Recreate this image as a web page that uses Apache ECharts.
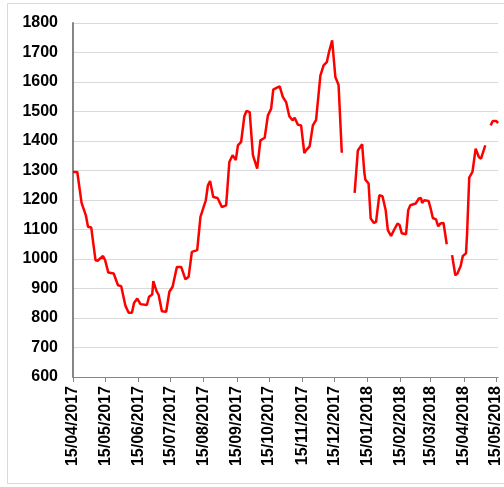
<!doctype html>
<html>
<head>
<meta charset="utf-8" />
<script src="https://cdn.jsdelivr.net/npm/echarts@6/dist/echarts.min.js"></script>
<style>
  html, body { margin: 0; padding: 0; background: #fff; }
  #chart { width: 504px; height: 487px; }
</style>
</head>
<body>
<div id="chart"></div>
<script>
// dates are dd/mm/yyyy; a null value breaks the line
const dates = [
  "15/04/2017", "19/04/2017", "23/04/2017", "27/04/2017", "29/04/2017", "02/05/2017",
  "06/05/2017", "08/05/2017", "13/05/2017", "15/05/2017", "18/05/2017", "23/05/2017",
  "27/05/2017", "30/05/2017", "03/06/2017", "06/06/2017", "09/06/2017", "11/06/2017",
  "14/06/2017", "17/06/2017", "23/06/2017", "25/06/2017", "28/06/2017", "29/06/2017",
  "02/07/2017", "04/07/2017", "07/07/2017", "11/07/2017", "14/07/2017", "17/07/2017",
  "21/07/2017", "25/07/2017", "29/07/2017", "01/08/2017", "04/08/2017", "09/08/2017",
  "12/08/2017", "17/08/2017", "19/08/2017", "21/08/2017", "24/08/2017", "28/08/2017",
  "01/09/2017", "05/09/2017", "08/09/2017", "11/09/2017", "14/09/2017", "16/09/2017",
  "19/09/2017", "22/09/2017", "24/09/2017", "27/09/2017", "30/09/2017", "04/10/2017",
  "07/10/2017", "11/10/2017", "14/10/2017", "17/10/2017", "19/10/2017", "22/10/2017",
  "25/10/2017", "28/10/2017", "31/10/2017", "03/11/2017", "06/11/2017", "08/11/2017",
  "11/11/2017", "14/11/2017", "17/11/2017", "19/11/2017", "22/11/2017", "25/11/2017",
  "28/11/2017", "02/12/2017", "05/12/2017", "08/12/2017", "10/12/2017", "13/12/2017",
  "16/12/2017", "19/12/2017", "22/12/2017", "28/12/2017",
  "03/01/2018", "06/01/2018", "10/01/2018", "12/01/2018", "13/01/2018", "16/01/2018",
  "18/01/2018", "21/01/2018", "23/01/2018", "26/01/2018", "29/01/2018", "01/02/2018",
  "03/02/2018", "06/02/2018", "09/02/2018", "12/02/2018", "14/02/2018", "16/02/2018",
  "20/02/2018", "22/02/2018", "24/02/2018", "01/03/2018", "04/03/2018", "06/03/2018",
  "07/03/2018", "09/03/2018", "13/03/2018", "15/03/2018", "17/03/2018", "20/03/2018",
  "22/03/2018", "24/03/2018", "27/03/2018", "30/03/2018", "01/04/2018",
  "04/04/2018", "07/04/2018", "09/04/2018", "12/04/2018", "14/04/2018", "17/04/2018",
  "18/04/2018", "20/04/2018", "23/04/2018", "26/04/2018", "29/04/2018", "01/05/2018",
  "05/05/2018", "07/05/2018",
  "10/05/2018", "12/05/2018", "15/05/2018", "17/05/2018"
];
const prices = [
  1295, 1295, 1190, 1148, 1109, 1107,
  996, 994, 1010, 996, 954, 951,
  911, 908, 841, 818, 818, 851,
  866, 847, 844, 872, 880, 925,
  891, 878, 823, 821, 889, 906,
  973, 973, 931, 940, 1024, 1030,
  1143, 1199, 1250, 1264, 1210, 1207,
  1176, 1182, 1329, 1352, 1335, 1385,
  1397, 1484, 1502, 1498, 1352, 1306,
  1402, 1411, 1487, 1509, 1574, 1580,
  1585, 1549, 1532, 1484, 1470, 1479,
  1455, 1453, 1359, 1370, 1382, 1453,
  1472, 1622, 1656, 1667, 1701, 1741,
  1617, 1590, 1360, null,
  1224, 1368, 1389, 1295, 1269, 1256,
  1137, 1122, 1126, 1216, 1213, 1165,
  1098, 1078, 1100, 1120, 1115, 1087,
  1084, 1165, 1182, 1188, 1205, 1207,
  1190, 1199, 1197, 1171, 1139, 1134,
  1111, 1120, 1122, 1050, null,
  1013, 945, 951, 976, 1010, 1019,
  1086, 1276, 1295, 1374, 1346, 1340,
  1385, null,
  1453, 1468, 1468, 1461
];
const tickDates = [
  "15/04/2017", "15/05/2017", "15/06/2017", "15/07/2017", "15/08/2017", "15/09/2017",
  "15/10/2017", "15/11/2017", "15/12/2017", "15/01/2018", "15/02/2018", "15/03/2018",
  "15/04/2018", "15/05/2018"
];
const axisStart = "15/04/2017";
const axisEnd = "17/05/2018";

function toTime(s) {
  const [d, m, y] = s.split("/").map(Number);
  return Date.UTC(y, m - 1, d);
}
function fmt(t) {
  const dt = new Date(t);
  const p = (n) => String(n).padStart(2, "0");
  return p(dt.getUTCDate()) + "/" + p(dt.getUTCMonth() + 1) + "/" + dt.getUTCFullYear();
}

const tickTimes = tickDates.map(toTime);
const seriesData = dates.map((d, i) => [toTime(d), prices[i]]);

const chart = echarts.init(document.getElementById("chart"), null, { renderer: "canvas" });
chart.setOption({
  animation: false,
  backgroundColor: "#ffffff",
  graphic: [{
    type: "rect",
    shape: { x: 7.5, y: 3.5, width: 600, height: 480 },
    style: { fill: "none", stroke: "#d9d9d9", lineWidth: 1 },
    silent: true
  }],
  grid: { left: 73, right: 3, top: 23, bottom: 110, containLabel: false },
  xAxis: {
    type: "value",
    min: toTime(axisStart),
    max: toTime(axisEnd),
    splitLine: { show: false },
    axisLine: { show: true, lineStyle: { color: "#868686", width: 1 } },
    axisTick: {
      show: true,
      customValues: tickTimes,
      length: 5,
      inside: false,
      lineStyle: { color: "#868686" }
    },
    axisLabel: {
      customValues: tickTimes,
      rotate: 90,
      margin: 9,
      color: "#000",
      fontFamily: "Liberation Sans, Arial, sans-serif",
      fontWeight: "bold",
      fontSize: 16,
      formatter: (v) => fmt(v)
    }
  },
  yAxis: {
    type: "value",
    min: 600,
    max: 1800,
    interval: 100,
    axisLine: { show: true, lineStyle: { color: "#868686", width: 2 } },
    axisTick: { show: false },
    splitLine: { show: true, lineStyle: { color: "#d9d9d9", width: 1 } },
    axisLabel: {
      margin: 15,
      color: "#000",
      fontFamily: "Liberation Sans, Arial, sans-serif",
      fontWeight: "bold",
      fontSize: 16,
      formatter: (v) => String(v)
    }
  },
  series: [{
    type: "line",
    data: seriesData,
    showSymbol: false,
    connectNulls: false,
    lineStyle: { color: "#ff0000", width: 2.5 },
    itemStyle: { color: "#ff0000" }
  }]
});
</script>
</body>
</html>
